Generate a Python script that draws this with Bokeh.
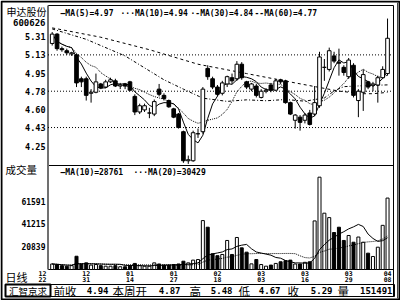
import pandas as pd
from bokeh.plotting import figure
from bokeh.models import Range1d, ColumnDataSource
from bokeh.embed import file_html
from bokeh.resources import INLINE
from bokeh.core.properties import value

# ---------------- data ----------------
opens = [5.24, 5.33, 5.19, 5.17, 5.14, 5.13, 4.90, 4.90, 4.76, 4.77,
         4.85, 4.82, 4.87, 4.88, 4.83, 4.85, 4.87, 4.73, 4.58, 4.60,
         4.57, 4.56, 4.80, 4.74, 4.69, 4.61, 4.56, 4.39, 4.11, 4.11,
         4.37, 4.39, 5.00, 4.90, 4.82, 4.76, 4.85, 4.91, 4.90, 5.04,
         4.87, 4.80, 4.83, 4.72, 4.78, 4.84, 4.79, 4.89, 4.88, 4.67,
         4.50, 4.53, 4.50, 4.57, 4.56, 4.64, 5.01, 4.99, 5.12, 5.06,
         5.01, 4.92, 5.03, 4.69, 4.77, 4.87, 4.84, 4.84, 4.91, 4.95]
highs = [5.35, 5.34, 5.21, 5.19, 5.16, 5.14, 4.92, 4.92, 4.80, 4.95,
         4.86, 4.89, 4.91, 4.90, 4.86, 4.86, 4.88, 4.75, 4.66, 4.66,
         4.62, 4.70, 4.85, 4.76, 4.70, 4.62, 4.57, 4.40, 4.16, 4.40,
         4.42, 4.82, 5.03, 4.92, 4.84, 4.88, 4.93, 4.95, 5.07, 5.06,
         4.88, 4.86, 4.85, 4.80, 4.81, 4.86, 4.90, 4.90, 4.89, 4.68,
         4.56, 4.55, 4.57, 4.60, 4.83, 5.16, 5.09, 5.20, 5.16, 5.19,
         5.03, 5.10, 5.05, 4.80, 4.99, 4.88, 4.87, 4.93, 5.02, 5.48]
lows = [5.22, 5.17, 5.16, 5.13, 5.12, 4.82, 4.82, 4.69, 4.67, 4.76,
        4.80, 4.81, 4.86, 4.82, 4.80, 4.80, 4.78, 4.55, 4.56, 4.58,
        4.52, 4.54, 4.73, 4.69, 4.62, 4.52, 4.42, 4.09, 4.08, 4.10,
        4.33, 4.37, 4.89, 4.80, 4.73, 4.74, 4.82, 4.85, 4.88, 4.89,
        4.80, 4.78, 4.72, 4.71, 4.76, 4.77, 4.78, 4.85, 4.66, 4.55,
        4.42, 4.40, 4.47, 4.45, 4.54, 4.62, 4.88, 4.97, 5.05, 4.93,
        4.93, 4.90, 4.72, 4.53, 4.59, 4.80, 4.78, 4.67, 4.90, 4.93]
closes = [5.33, 5.19, 5.18, 5.15, 5.15, 4.86, 4.87, 4.74, 4.77, 4.87,
          4.81, 4.87, 4.89, 4.83, 4.84, 4.83, 4.79, 4.58, 4.64, 4.64,
          4.57, 4.68, 4.75, 4.71, 4.63, 4.53, 4.43, 4.11, 4.12, 4.38,
          4.37, 4.80, 4.92, 4.82, 4.75, 4.86, 4.92, 4.88, 5.04, 4.91,
          4.82, 4.85, 4.74, 4.78, 4.79, 4.79, 4.88, 4.87, 4.67, 4.56,
          4.55, 4.48, 4.55, 4.46, 4.67, 5.11, 5.01, 5.17, 5.07, 5.05,
          4.96, 5.08, 4.74, 4.78, 4.94, 4.82, 4.85, 4.91, 4.99, 5.29]
volumes = [5000, 4500, 3500, 3000, 3500, 12000, 5000, 6000, 4000, 4500,
           3500, 3000, 3000, 3500, 2500, 2500, 3500, 5500, 3500, 3000,
           3000, 6000, 5000, 4000, 4000, 4500, 5000, 7500, 6000, 8500,
           9000, 44300, 38300, 14200, 12500, 13600, 26300, 13600, 29000, 19600,
           15700, 5100, 9000, 4500, 3000, 4000, 5500, 7000, 8000, 8500,
           5000, 5000, 6500, 7000, 44000, 83600, 51000, 47000, 33500, 38300,
           26300, 30800, 24700, 29400, 24700, 14800, 11800, 20200, 40000, 64691]

# moving averages of 30 / 60 days at some candles
ma30_idx = [0, 7, 15, 23, 27, 31, 36, 40, 44, 48, 52, 56, 58, 60, 64, 69]
ma30_val = [5.38, 5.28, 5.12, 4.89, 4.80, 4.713, 4.682, 4.697, 4.688, 4.700,
            4.684, 4.715, 4.782, 4.824, 4.833, 4.841]
ma60_idx = [0, 10, 20, 30, 40, 50, 59, 62, 64, 66, 69]
ma60_val = [5.39, 5.30, 5.18, 5.04, 4.95, 4.86, 4.781, 4.766, 4.756, 4.756, 4.769]

date_idx = [-2, 7, 16, 25, 34, 43, 52, 61, 69]
date_top = ["12", "12", "01", "01", "02", "03", "03", "03", "04"]
date_bot = ["22", "31", "14", "27", "18", "03", "16", "29", "08"]

price_ticks = [5.31, 5.13, 4.95, 4.78, 4.60, 4.43, 4.25]
price_tick_labels = ["5.31", "5.13", "4.95", "4.78", "4.60", "4.43", "4.25"]
price_grid = [5.13, 4.78, 4.43]
vol_ticks = [61591, 41215, 20839]
vol_tick_labels = ["61591", "41215", "20839"]

stock_name = "申达股份"
stock_code = "600626"
price_legend = ["—MA(5)=4.97", "···MA(10)=4.94", "·-MA(30)=4.84", "--MA(60)=4.77"]
vol_legend = ["—MA(10)=28761", "···MA(20)=30429"]
info_labels = ["前收", "本周开", "高", "低", "收", "量"]
info_values = ["4.94", "4.87", "5.48", "4.67", "5.29", "151491"]

# ---------------- layout (pixels) ----------------
W, H = 400, 300
PANEL_L, PANEL_R = 47.5, 393.0
PRICE_T, PRICE_B, VOL_B = 5.0, 165.0, 269.0
CANDLE0_PX, CANDLE_DX = 51.7, 4.86
PRICE_REF, PRICE_REF_PX, PX_PER_PRICE = 5.31, 35.7, 103.8
VOL_PER_PX = 905.6

MONO = value("DejaVu Sans Mono")
CJK = value("Noto Sans CJK SC")

n = len(closes)
idx = list(range(n))
up = [c >= o for o, c in zip(opens, closes)]
src = ColumnDataSource(dict(
    idx=idx, o=opens, h=highs, l=lows, c=closes, v=volumes,
    top=[max(o, c) for o, c in zip(opens, closes)],
    bot=[min(o, c) for o, c in zip(opens, closes)],
    fill=["white" if u else "black" for u in up],
))
cs = pd.Series(closes)
vs = pd.Series(volumes, dtype=float)
ma5 = cs.rolling(5, min_periods=1).mean()
ma10 = cs.rolling(10, min_periods=1).mean()
vma10 = vs.rolling(10, min_periods=1).mean()
vma20 = vs.rolling(20, min_periods=1).mean()

p = figure(width=W, height=H,
           x_range=Range1d(-CANDLE0_PX / CANDLE_DX, (W - CANDLE0_PX) / CANDLE_DX),
           y_range=Range1d(H, 0),
           min_border=0, toolbar_location=None, output_backend="svg",
           x_axis_type=None, y_axis_type=None, outline_line_color=None)
p.background_fill_color = "white"
p.border_fill_color = "white"
p.extra_x_ranges = {"px": Range1d(0, W)}
p.extra_y_ranges = {
    "price": Range1d(PRICE_REF - (H - PRICE_REF_PX) / PX_PER_PRICE,
                     PRICE_REF + PRICE_REF_PX / PX_PER_PRICE),
    "vol": Range1d(-(H - VOL_B) * VOL_PER_PX, VOL_B * VOL_PER_PX),
}

# ---- frames ----
p.quad(left=[1], right=[W - 1], top=[1], bottom=[H - 1], x_range_name="px",
       fill_color=None, line_color="black", line_width=2)
p.segment(x0=[397], y0=[2], x1=[397], y1=[H - 2], x_range_name="px",
          line_color="#404040", line_width=1)
p.segment(x0=[PANEL_R], y0=[PRICE_T], x1=[PANEL_R], y1=[296], x_range_name="px",
          line_color="black", line_width=1)
p.segment(x0=[PANEL_L] * 3, x1=[PANEL_R] * 3, y0=[PRICE_T, PRICE_B, VOL_B],
          y1=[PRICE_T, PRICE_B, VOL_B], x_range_name="px", line_color="black", line_width=1)
p.segment(x0=[PANEL_L], y0=[PRICE_T], x1=[PANEL_L], y1=[VOL_B], x_range_name="px",
          line_color="#707070", line_width=2)

# grid
p.segment(x0=[PANEL_L] * len(price_grid), x1=[PANEL_R] * len(price_grid),
          y0=price_grid, y1=price_grid, x_range_name="px", y_range_name="price",
          line_color="black", line_width=1, line_dash="1 2")

# ---- moving averages (price) ----
p.line(idx, ma5, y_range_name="price", line_color="black", line_width=1)
p.line(idx, ma10, y_range_name="price", line_color="black", line_width=1, line_dash="1 1")
p.line(ma30_idx, ma30_val, y_range_name="price", line_color="black", line_width=1,
       line_dash="3 2 1 2")
p.line(ma60_idx, ma60_val, y_range_name="price", line_color="black", line_width=1,
       line_dash="3 3")

# ---- candles ----
p.segment(x0="idx", y0="l", x1="idx", y1="h", source=src, y_range_name="price",
          line_color="black", line_width=1)
p.vbar(x="idx", width=0.75, top="top", bottom="bot", source=src, y_range_name="price",
       fill_color="fill", line_color="black", line_width=1)

# ---- volume ----
p.vbar(x="idx", width=0.62, top="v", bottom=0, source=src, y_range_name="vol",
       fill_color="fill", line_color="black", line_width=1)
p.line(idx, vma10, y_range_name="vol", line_color="black", line_width=1)
p.line(idx, vma20, y_range_name="vol", line_color="black", line_width=1, line_dash="1 1")

# ---- texts ----
def txt(x, y, t, font, size, align="left", bold=False, xr="px", yr="default"):
    kw = {}
    if xr != "default":
        kw["x_range_name"] = xr
    if yr != "default":
        kw["y_range_name"] = yr
    p.text(x=x, y=y, text=t, text_font=font, text_font_size=size, text_align=align,
           text_baseline="middle", text_color="black",
           text_font_style="bold" if bold else "normal", **kw)

txt([6], [11], [stock_name], CJK, "10px")
txt([45], [21.5], [stock_code], MONO, "9px", "right", True)
txt([45] * len(price_ticks), price_ticks, price_tick_labels, MONO, "8.5px", "right", True,
    yr="price")
txt([45] * len(vol_ticks), vol_ticks, vol_tick_labels, MONO, "8px", "right", True, yr="vol")
txt([5], [169], ["成交量"], CJK, "10.5px")
txt([5], [276], ["日线"], CJK, "11px")

txt([60, 120, 190, 254], [13] * 4, price_legend, MONO, "8px", bold=True)
txt([60, 133], [171.7] * 2, vol_legend, MONO, "8px", bold=True)

txt(date_idx, [272.7] * len(date_idx), date_top, MONO, "6.5px", "center", True, xr="default")
txt(date_idx, [278.6] * len(date_idx), date_bot, MONO, "6.5px", "center", True, xr="default")

# info bar
p.quad(left=[5], right=[394], top=[284], bottom=[296], x_range_name="px",
       fill_color=None, line_color="black", line_width=1)
p.quad(left=[5], right=[50], top=[284], bottom=[296], x_range_name="px",
       fill_color=None, line_color="black", line_width=2)
txt([27.5], [290], ["汇智京求"], CJK, "9.5px", "center")
txt([53, 112, 189, 238, 287, 337], [290] * 6, info_labels, CJK, "11.5px")
txt([108, 180, 232, 280, 332, 392], [290] * 6, info_values, MONO, "9px", "right", True)

open("out.html", "w").write(file_html(p, INLINE))
